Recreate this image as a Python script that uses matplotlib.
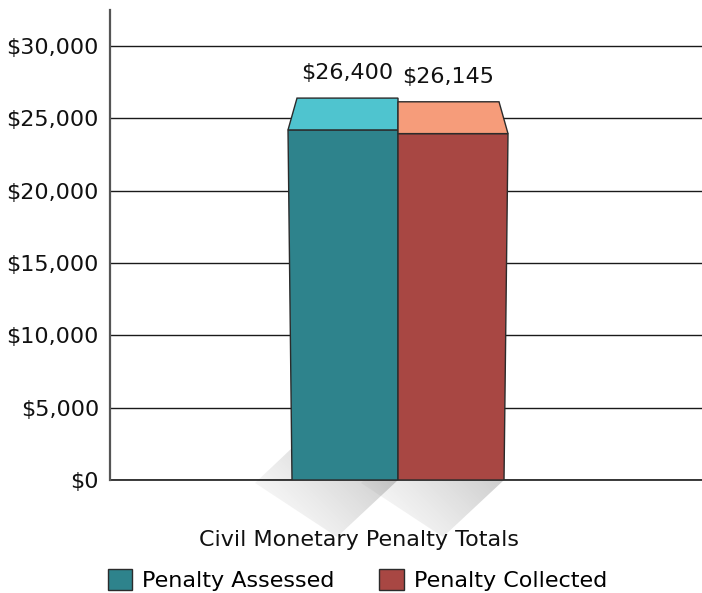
import numpy as np
import matplotlib.pyplot as plt
from matplotlib.patches import Polygon, Patch
from matplotlib.ticker import FuncFormatter


categories = ["Penalty Assessed", "Penalty Collected"]
values = [26400, 26145]
value_labels = ["$26,400", "$26,145"]
group_label = "Civil Monetary Penalty Totals"
yticks = [0, 5000, 10000, 15000, 20000, 25000, 30000]

FRONT = ["#2e838c", "#a84743"]
CAP = ["#4fc4cf", "#f69c7a"]
EDGE = "#2b2b2b"
FONT = 16

# plot area in pixels of the 702x593 output
AX_L, AX_R, AX_TOP, AX_BASE = 110, 702, 10, 480
XLIM = (-0.4865, 0.5135)
YLIM = (0, 32490)
PX_X = (XLIM[1] - XLIM[0]) / (AX_R - AX_L)
PX_Y = (YLIM[1] - YLIM[0]) / (AX_BASE - AX_TOP)
BAR_W = 110 * PX_X
CAP_DEPTH = 2200          # height of the bevelled top, data units
FLARE = 4 * PX_X          # outer edge leans out towards the top
CAP_INSET = 9 * PX_X      # top face narrows on the outer side


def add_shadow(ax, fig, verts):
    verts = np.asarray(verts)
    poly = Polygon(verts, closed=True, transform=ax.transData)
    x0, x1 = verts[:, 0].min(), verts[:, 0].max()
    y0, y1 = verts[:, 1].min(), verts[:, 1].max()
    xs = np.linspace(x0, x1, 240)
    ys = np.linspace(y0, y1, 240)
    X, Y = np.meshgrid(xs, ys)
    u = X / PX_X + Y / PX_Y
    t = (u - u.min()) / np.ptp(u)
    rgba = np.zeros(X.shape + (4,))
    rgba[..., :3] = 0.45
    rgba[..., 3] = 0.42 * t ** 1.2
    im = ax.imshow(rgba, extent=(x0, x1, y0, y1), origin="lower",
                   aspect="auto", interpolation="bilinear", zorder=0.3,
                   clip_path=poly)
    im.set_clip_box(fig.bbox)


def main():
    plt.rcParams.update({"font.family": "DejaVu Sans"})
    fig = plt.figure(figsize=(7.02, 5.93), dpi=100)
    fig.patch.set_facecolor("white")
    ax = fig.add_axes([AX_L / 702, (593 - AX_BASE) / 593,
                       (AX_R - AX_L) / 702, (AX_BASE - AX_TOP) / 593])

    centers = [-BAR_W / 2, BAR_W / 2]
    for i, (c, v) in enumerate(zip(centers, values)):
        x0, x1 = c - BAR_W / 2, c + BAR_W / 2
        front_top = v - CAP_DEPTH
        if i == 0:   # outer side on the left
            front = [(x0 + FLARE, 0), (x0, front_top), (x1, front_top), (x1, 0)]
            cap = [(x0, front_top), (x0 + CAP_INSET, v), (x1, v), (x1, front_top)]
            inner_bottom = x0 + FLARE
        else:        # outer side on the right
            front = [(x0, 0), (x0, front_top), (x1, front_top), (x1 - FLARE, 0)]
            cap = [(x0, front_top), (x0, v), (x1 - CAP_INSET, v), (x1, front_top)]
            inner_bottom = x0
        right_bottom = front[3][0]

        add_shadow(ax, fig, [
            (inner_bottom, 32 * PX_Y),
            (inner_bottom - 37 * PX_X, -3 * PX_Y),
            (inner_bottom + 45 * PX_X, -57 * PX_Y),
            (right_bottom, 0),
        ])

        ax.add_patch(Polygon(front, closed=True, facecolor=FRONT[i],
                             edgecolor=EDGE, linewidth=1.0, zorder=3))
        ax.add_patch(Polygon(cap, closed=True, facecolor=CAP[i],
                             edgecolor=EDGE, linewidth=1.0, zorder=3))
        cap_mid = (cap[1][0] + cap[2][0]) / 2
        ax.annotate(value_labels[i], (cap_mid, v), xytext=(0, 18),
                    textcoords="offset points", ha="center", va="center",
                    fontsize=FONT, color="#111111", zorder=4)

    ax.set_xlim(*XLIM)
    ax.set_ylim(*YLIM)
    ax.set_yticks(yticks)
    ax.yaxis.set_major_formatter(FuncFormatter(lambda v, p: f"${v:,.0f}"))
    ax.set_xticks([])
    ax.tick_params(axis="y", length=0, pad=8, labelsize=FONT, labelcolor="#111111")
    ax.set_axisbelow(True)
    ax.yaxis.grid(True, color="#1a1a1a", linewidth=1.0)
    ax.axhline(0, color="#1a1a1a", linewidth=1.2, zorder=2, clip_on=False)
    for side in ("top", "right", "bottom"):
        ax.spines[side].set_visible(False)
    ax.spines["left"].set_color("#555555")
    ax.spines["left"].set_linewidth(1.6)
    ax.patch.set_alpha(0)

    fig.text(359 / 702, (593 - 540) / 593, group_label, ha="center",
             va="center", fontsize=FONT, color="#111111")

    handles = [Patch(facecolor=FRONT[i], edgecolor=EDGE, linewidth=1.0)
               for i in range(len(categories))]
    fig.legend(handles, categories, loc="lower left",
               bbox_to_anchor=(108 / 702, 2 / 593), ncol=2, frameon=False,
               fontsize=FONT, handlelength=1.1, handleheight=1.1,
               handletextpad=0.45, columnspacing=2.0, borderpad=0,
               borderaxespad=0)

    fig.savefig("out.png", dpi=100)
    plt.close(fig)


if __name__ == "__main__":
    main()
